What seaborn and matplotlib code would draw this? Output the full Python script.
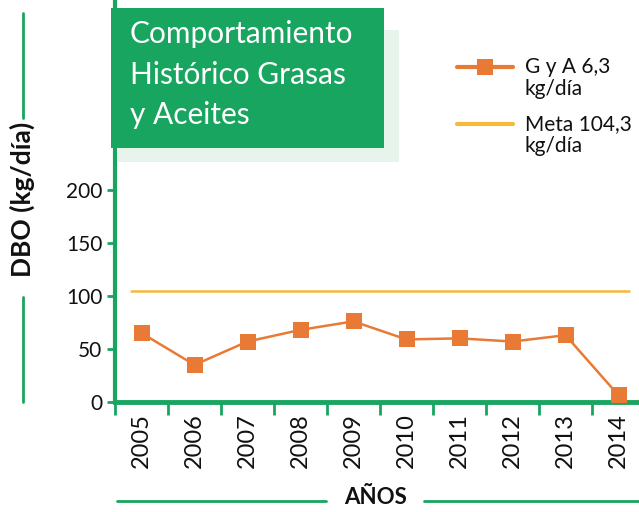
import matplotlib
matplotlib.use("Agg")
import matplotlib.pyplot as plt
import seaborn as sns
import pandas as pd
from matplotlib.patches import Rectangle
from matplotlib.lines import Line2D

# === DATOS ===
anios = ['2005', '2006', '2007', '2008', '2009', '2010', '2011', '2012', '2013', '2014']
grasas = [65, 35, 57, 68, 76, 59, 60, 57, 63, 6.3]
meta = 104.3
yticks = [0, 50, 100, 150, 200]

VERDE = '#18a55f'
VERDE_CLARO = '#e6f4ec'
NARANJA = '#e97a36'
AMARILLO = '#f6b93b'
TEXTO = '#111111'

sns.set_theme(style='white')
plt.rcParams['font.family'] = ['Lato', 'DejaVu Sans']

df = pd.DataFrame({'pos': range(len(anios)), 'valor': grasas})

fig = plt.figure(figsize=(6.39, 5.12), dpi=100)
ax = fig.add_axes([115 / 639, 110 / 512, 530 / 639, 402 / 512])

sns.lineplot(data=df, x='pos', y='valor', ax=ax, color=NARANJA, linewidth=1.8,
             marker='s', markersize=12, markeredgewidth=0, zorder=3, clip_on=False)
ax.axhline(meta, xmin=0.03, xmax=0.97, color=AMARILLO, linewidth=1.8, zorder=2)

ax.set_xlim(-0.5, len(anios) - 0.5)
ax.set_ylim(0, 379)
ax.set_yticks(yticks)
ax.set_yticklabels([str(v) for v in yticks], fontsize=15, color=TEXTO)
ax.set_xticks(range(len(anios)))
ax.set_xticklabels(anios, rotation=90, fontsize=17, color=TEXTO)
ax.set_xticks([i - 0.5 for i in range(len(anios) + 1)], minor=True)
ax.tick_params(axis='x', which='major', length=0, pad=8)
ax.tick_params(axis='x', which='minor', length=9, width=2, color=VERDE, direction='out', bottom=True)
ax.tick_params(axis='y', length=6, width=2, color=VERDE, direction='out', left=True, pad=3)
ax.set_xlabel('')
ax.set_ylabel('')

for lado in ['top', 'right']:
    ax.spines[lado].set_visible(False)
ax.spines['left'].set_color(VERDE)
ax.spines['left'].set_linewidth(3)
ax.spines['bottom'].set_color(VERDE)
ax.spines['bottom'].set_linewidth(3.5)
ax.patch.set_alpha(0)

# === CAJA DEL TÍTULO ===
W, H = 639, 512
fig.patches.append(Rectangle((118 / W, 1 - 162 / H), 281 / W, 132 / H, transform=fig.transFigure,
                             facecolor=VERDE_CLARO, edgecolor='none', zorder=0))
fig.patches.append(Rectangle((111 / W, 1 - 148 / H), 273 / W, 140 / H, transform=fig.transFigure,
                             facecolor=VERDE, edgecolor='none', zorder=5))
fig.text(130 / W, 1 - 20 / H, 'Comportamiento\nHistórico Grasas\ny Aceites', color='white',
         fontsize=21.5, va='top', ha='left', linespacing=1.55, zorder=6)

# === LEYENDA ===
fig.add_artist(Line2D([457 / W, 513 / W], [1 - 67 / H] * 2, color=NARANJA, linewidth=3,
                      transform=fig.transFigure))
fig.add_artist(Line2D([485 / W], [1 - 67 / H], color=NARANJA, marker='s', markersize=11,
                      markeredgewidth=0, linestyle='none', transform=fig.transFigure))
fig.text(525 / W, 1 - 78 / H, 'G y A 6,3\nkg/día', fontsize=15, va='center', ha='left',
         linespacing=1.08, color=TEXTO)
fig.add_artist(Line2D([457 / W, 513 / W], [1 - 124 / H] * 2, color=AMARILLO, linewidth=3,
                      transform=fig.transFigure))
fig.text(525 / W, 1 - 135 / H, 'Meta 104,3\nkg/día', fontsize=15, va='center', ha='left',
         linespacing=1.08, color=TEXTO)

# === ETIQUETAS DE EJES ===
fig.text(22 / W, 1 - 199 / H, 'DBO (kg/día)', rotation=90, fontsize=19, fontweight='bold',
         va='center', ha='center', color=TEXTO)
fig.add_artist(Line2D([23 / W] * 2, [1 - 13 / H, 1 - 118 / H], color=VERDE, linewidth=2,
                      transform=fig.transFigure))
fig.add_artist(Line2D([23 / W] * 2, [1 - 297 / H, 1 - 402 / H], color=VERDE, linewidth=2,
                      transform=fig.transFigure))
fig.text(376 / W, 1 - 498 / H, 'AÑOS', fontsize=16, fontweight='bold', va='center', ha='center',
         color=TEXTO)
fig.add_artist(Line2D([117 / W, 326 / W], [1 - 501 / H] * 2, color=VERDE, linewidth=2,
                      transform=fig.transFigure))
fig.add_artist(Line2D([424 / W, 1.0], [1 - 501 / H] * 2, color=VERDE, linewidth=2,
                      transform=fig.transFigure))

fig.savefig('out.png', dpi=100)
